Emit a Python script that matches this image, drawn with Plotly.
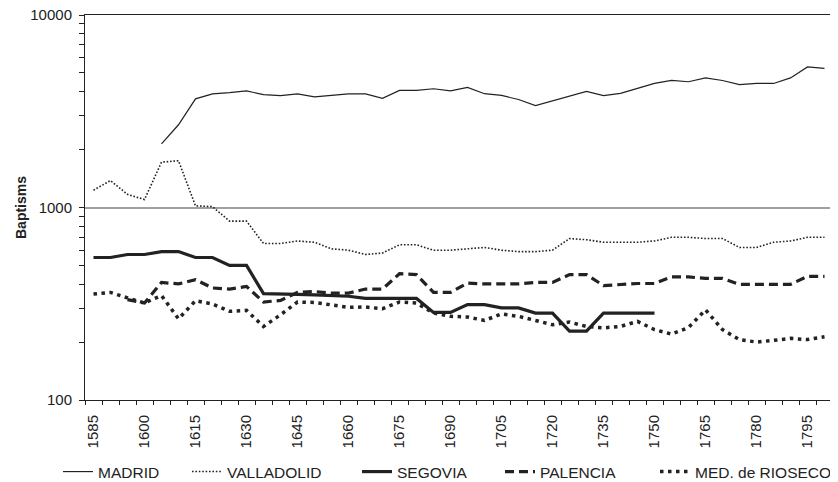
import plotly.graph_objects as go

years = list(range(1585, 1805, 5))

madrid_years = list(range(1605, 1805, 5))
madrid = [2140, 2690, 3670, 3890, 3950, 4030, 3860, 3810, 3890, 3760,
          3820, 3890, 3890, 3690, 4060, 4060, 4140, 4040, 4210, 3900,
          3820, 3640, 3380, 3570, 3780, 4010, 3810, 3920, 4160, 4410,
          4570, 4500, 4710, 4570, 4350, 4410, 4410, 4710, 5370, 5280]

valladolid = [1230, 1380, 1170, 1100, 1720, 1750, 1020, 1010, 850, 850,
              650, 650, 670, 660, 610, 600, 570, 580, 640, 640,
              600, 600, 610, 620, 600, 590, 590, 600, 690, 680,
              660, 660, 660, 670, 700, 700, 690, 690, 620, 620,
              660, 670, 700, 700]

segovia_years = list(range(1585, 1755, 5))
segovia = [550, 550, 570, 570, 590, 590, 550, 550, 500, 500,
           357, 357, 354, 352, 349, 346, 337, 337, 337, 337,
           285, 285, 313, 313, 301, 301, 283, 283, 228, 228,
           283, 283, 283, 283]

palencia_years = list(range(1595, 1805, 5))
palencia = [332, 319, 408, 401, 422, 382, 377, 389, 323, 329,
            362, 366, 359, 359, 377, 377, 453, 448, 362, 362,
            405, 401, 401, 401, 408, 408, 448, 448, 393, 397,
            403, 403, 436, 436, 428, 428, 399, 399, 399, 399,
            439, 439]

rioseco = [355, 362, 339, 319, 349, 264, 328, 315, 289, 292,
           241, 277, 323, 321, 312, 303, 304, 298, 323, 319,
           283, 272, 270, 259, 280, 272, 259, 246, 254, 241,
           237, 241, 256, 232, 220, 238, 294, 232, 206, 200,
           204, 209, 206, 213]

x_labels = list(range(1585, 1800, 15))

INK = '#222222'
FONT = 'Liberation Sans, Arial, sans-serif'

fig = go.Figure()

fig.add_trace(go.Scatter(x=madrid_years, y=madrid, name='MADRID', mode='lines',
                         line=dict(color=INK, width=1.2), legend='legend'))
fig.add_trace(go.Scatter(x=years, y=valladolid, name='VALLADOLID', mode='lines',
                         line=dict(color=INK, width=1.6, dash='1.6px,1.8px'),
                         legend='legend2'))
fig.add_trace(go.Scatter(x=segovia_years, y=segovia, name='SEGOVIA', mode='lines',
                         line=dict(color=INK, width=3.2), legend='legend3'))
fig.add_trace(go.Scatter(x=palencia_years, y=palencia, name='PALENCIA', mode='lines',
                         line=dict(color=INK, width=3.2, dash='9px,5px'),
                         legend='legend4'))
fig.add_trace(go.Scatter(x=years, y=rioseco, name='MED. de RIOSECO', mode='lines',
                         line=dict(color=INK, width=3.5, dash='3.5px,4.5px'),
                         legend='legend5'))

# one legend per entry so the spacing follows the original
plot_left, plot_w = 85, 748
legend_left = [58, 187, 357, 500, 655]
legend_keys = ['legend', 'legend2', 'legend3', 'legend4', 'legend5']
legends = {}
for key, px in zip(legend_keys, legend_left):
    legends[key] = dict(x=(px - plot_left) / plot_w, xanchor='left',
                        y=-0.187, yanchor='middle', orientation='h',
                        font=dict(size=15.5, color=INK), bgcolor='rgba(0,0,0,0)',
                        borderwidth=0)

# the page body keeps its default 8px margin, so the figure is shifted by 8px
fig.update_layout(
    width=845, height=474,
    margin=dict(l=77, r=20, t=7, b=82, autoexpand=False),
    paper_bgcolor='white', plot_bgcolor='white',
    font=dict(family=FONT, size=15, color=INK),
    showlegend=True,
    **legends,
)

fig.update_xaxes(
    range=[1582.5, 1802.5], automargin=False,
    tickvals=x_labels, tickangle=-90, ticks='', ticklabelstandoff=8,
    ticklabeloverflow='allow',
    minor=dict(ticks='outside', tick0=1582.5, dtick=5, ticklen=4,
               tickcolor=INK, showgrid=False),
    showline=True, linecolor=INK, linewidth=1, mirror=True,
    showgrid=False, zeroline=False,
)

fig.update_yaxes(
    type='log', range=[2, 4], automargin=False,
    tickvals=[100, 1000, 10000], ticktext=['100', '1000', '10000'],
    ticks='outside', ticklen=5, tickcolor=INK, ticklabelstandoff=4,
    ticklabeloverflow='allow',
    minor=dict(ticks='outside', ticklen=5, tickcolor=INK, showgrid=False,
               tickvals=[m * d for d in (100, 1000) for m in range(2, 10)]),
    showline=True, linecolor=INK, linewidth=1, mirror=True,
    showgrid=True, gridcolor='#a0a0a0', gridwidth=1.5,
    title=dict(text='<b>Baptisms</b>', font=dict(size=14), standoff=0),
)

fig.write_html("out.html")
